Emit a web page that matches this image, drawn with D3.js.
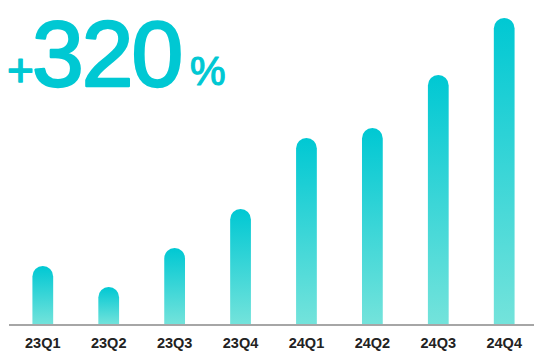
<!DOCTYPE html>
<html>
<head>
  <meta charset="utf-8">
  <script src="https://d3js.org/d3.v7.min.js"></script>
  <style>
    body { margin: 0; background: #fff; }
    svg { display: block; font-family: "Liberation Sans", Arial, sans-serif; }
    .axis text { font-size: 14.5px; font-weight: bold; fill: #222; font-family: "Liberation Sans", Arial, sans-serif; }
  </style>
</head>
<body>
<svg id="chart"></svg>
<script>

// quarters and bar heights (arbitrary units)
var quarters = ["23Q1", "23Q2", "23Q3", "23Q4", "24Q1", "24Q2", "24Q3", "24Q4"];
var values = [59, 38, 77, 116, 187, 197, 250, 307];
var headline = ["+", "320", "%"];

var W = 534, H = 352;
var baseY = 325;

var svg = d3.select("#chart")
    .attr("width", W)
    .attr("height", H);

var defs = svg.append("defs");
var grad = defs.append("linearGradient")
    .attr("id", "barGrad")
    .attr("x1", 0).attr("y1", 0)
    .attr("x2", 0).attr("y2", 1);
grad.append("stop").attr("offset", "0%").attr("stop-color", "#00c8d3");
grad.append("stop").attr("offset", "100%").attr("stop-color", "#74e3db");

var x = d3.scaleBand()
    .domain(quarters)
    .range([10, 537])
    .paddingInner(0.685)
    .paddingOuter(0.34);

var y = d3.scaleLinear()
    .domain([0, 307])
    .range([baseY, 18]);

var bw = x.bandwidth();
var r = bw / 2;

function barPath(d, i) {
  var x0 = x(quarters[i]), top = y(d);
  return "M" + x0 + "," + baseY +
    "V" + (top + r) +
    "A" + r + "," + r + " 0 0 1 " + (x0 + bw) + "," + (top + r) +
    "V" + baseY + "Z";
}

svg.selectAll(".bar")
    .data(values)
  .enter().append("path")
    .attr("class", "bar")
    .attr("d", barPath)
    .attr("fill", "url(#barGrad)");

var axis = svg.append("g")
    .attr("class", "axis")
    .attr("transform", "translate(0," + baseY + ")")
    .call(d3.axisBottom(x).tickSize(0).tickPadding(13));

axis.select(".domain")
    .attr("stroke", "#a6a6a6")
    .attr("stroke-width", 2)
    .attr("d", "M9,0H534");

// big headline number
var hl = svg.append("g")
    .attr("fill", "#00c8d3")
    .attr("stroke", "#00c8d3")
    .attr("stroke-linejoin", "round");
hl.append("text")
    .attr("x", 7).attr("y", 86)
    .attr("font-size", 46)
    .attr("stroke-width", 1.4)
    .text(headline[0]);
hl.append("text")
    .attr("x", 32).attr("y", 86)
    .attr("font-size", 93)
    .attr("stroke-width", 2.4)
    .attr("letter-spacing", -2)
    .text(headline[1]);
hl.append("text")
    .attr("x", 190).attr("y", 85)
    .attr("font-size", 40)
    .attr("stroke-width", 1.2)
    .text(headline[2]);

</script>
</body>
</html>
